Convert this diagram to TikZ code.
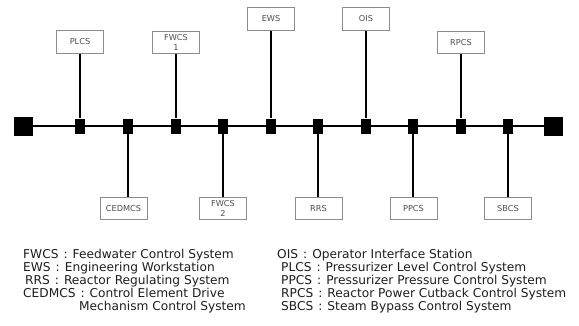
\documentclass[tikz,border=0pt]{standalone}
\usepackage{fontspec}
\setmainfont{DejaVu Sans}
\usepackage{tikz}
\usetikzlibrary{positioning,calc}
\definecolor{boxGray}{RGB}{140,140,140}
\definecolor{labelGray}{RGB}{80,80,80}
\definecolor{legendInk}{RGB}{30,30,30}
\newcommand{\keysep}{\hspace{5pt}:\hspace{5pt}}

\begin{document}
\begin{tikzpicture}[x=1pt,y=-1pt,
    bigsq/.style={fill=black,minimum size=19pt,inner sep=0pt},
    tap/.style={fill=black,minimum width=10pt,minimum height=15pt,inner sep=0pt},
    sysbox/.style={draw=boxGray,line width=0.7pt,fill=white,minimum width=47pt,minimum height=22.5pt,
                   inner sep=0pt,align=center,text=labelGray,font=\fontsize{8.2}{10.5}\selectfont},
    link/.style={line width=1.3pt},
    legend/.style={anchor=base west,align=left,inner sep=0pt,text=legendInk,
                   font=\fontsize{12.2}{13.1}\selectfont}]
\useasboundingbox (0,0) rectangle (579,325);

% Bus and its end terminators
\node[bigsq] (endL) at (23,126) {};
\node[bigsq] (endR) at (553.5,126) {};
\draw[link] (endL) -- (endR);

% Taps on the bus
\foreach \x [count=\i] in {80,128,176,223,271,318,366,413,461,508}
    \node[tap] (t\i) at (\x,126) {};

% Stations above the bus
\node[sysbox] (plcs) at (80,42) {PLCS};
\node[sysbox] (fwcsA) at (176,42.5) {FWCS\\1};
\node[sysbox] (ews) at (271,19) {EWS};
\node[sysbox] (ois) at (366,19) {OIS};
\node[sysbox] (rpcs) at (461,42.5) {RPCS};
\foreach \b/\t in {plcs/t1,fwcsA/t3,ews/t5,ois/t7,rpcs/t9}
    \draw[link] (\b) -- (\t);

% Stations below the bus
\node[sysbox] (cedmcs) at (123.5,208.5) {CEDMCS};
\node[sysbox] (fwcsB) at (223,208.5) {FWCS\\2};
\node[sysbox] (rrs) at (318.5,208.5) {RRS};
\node[sysbox] (ppcs) at (413.5,208.5) {PPCS};
\node[sysbox] (sbcs) at (508,208.5) {SBCS};
\foreach \b/\t in {cedmcs/t2,fwcsB/t4,rrs/t6,ppcs/t8,sbcs/t10}
    \draw[link] (\t) -- (\t |- \b.north);

% Legend (base = last line)
\node[legend] (keyL) at (23,310.5) {FWCS\keysep Feedwater Control System\\
    EWS\keysep Engineering Workstation\\
    \hspace*{2pt}RRS\keysep Reactor Regulating System\\
    CEDMCS\keysep Control Element Drive\\
    \hspace*{56pt}Mechanism Control System};
\node[legend] (keyR) at (277,310.5) {OIS\keysep Operator Interface Station\\
    \hspace*{4pt}PLCS\keysep Pressurizer Level Control System\\
    \hspace*{4pt}PPCS\keysep Pressurizer Pressure Control System\\
    \hspace*{4pt}RPCS\keysep Reactor Power Cutback Control System\\
    \hspace*{4pt}SBCS\keysep Steam Bypass Control System};
\end{tikzpicture}
\end{document}
